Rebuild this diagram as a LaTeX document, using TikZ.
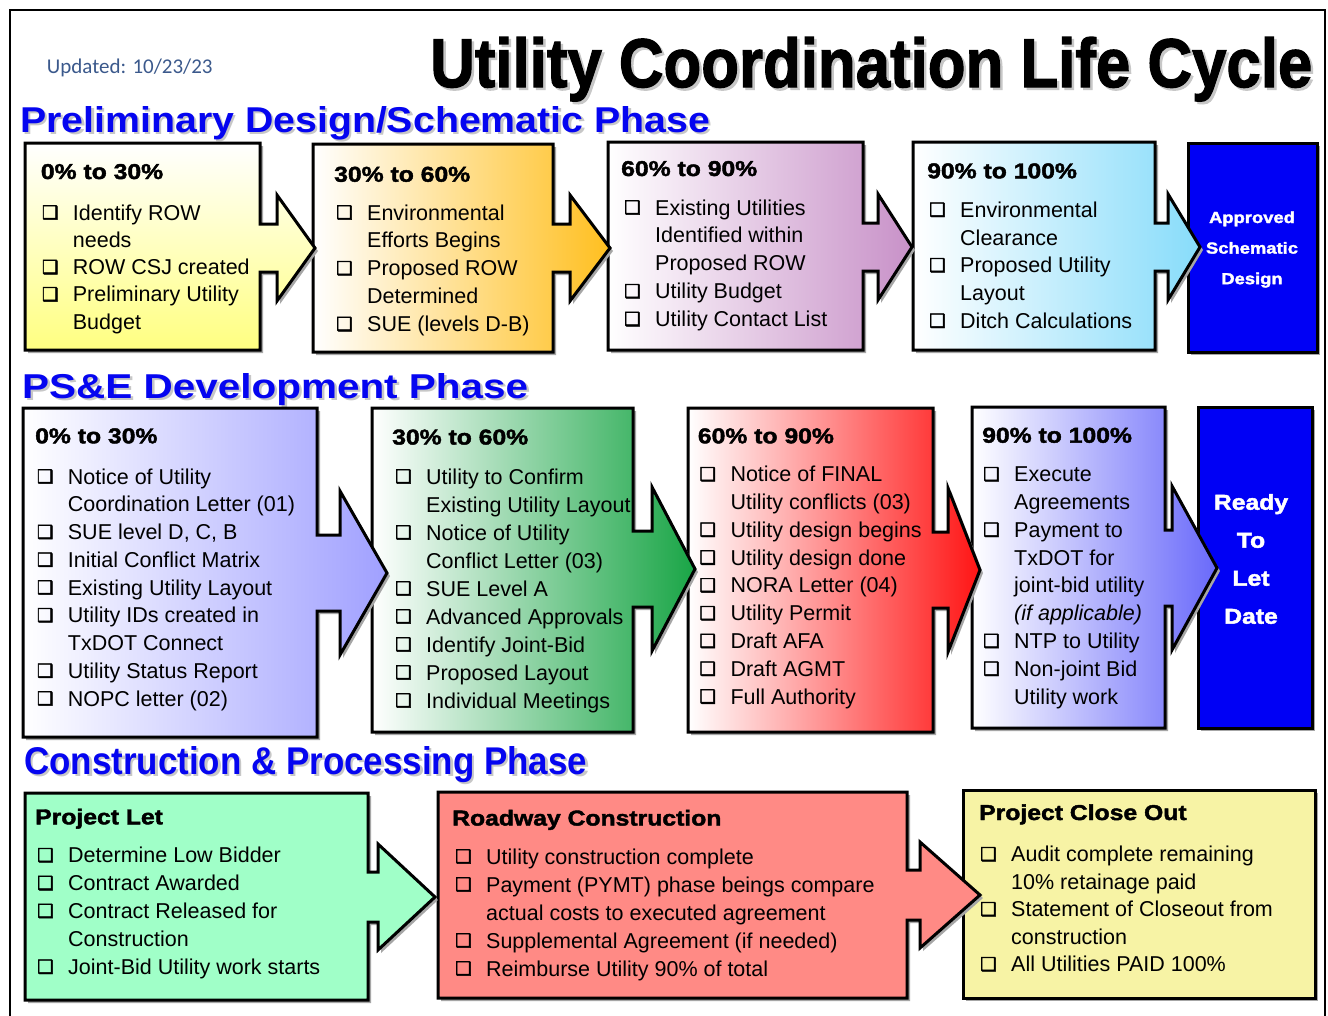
\documentclass[tikz,border=0pt]{standalone}
\usepackage{fontspec}
\usepackage{graphicx}
\setmainfont{Liberation Sans}
\newfontfamily\hdrfamily[FakeBold=2,FakeStretch=1.15]{Liberation Sans Bold}
\newfontfamily\cbfamily[FakeBold=2.5]{DejaVu Sans}
\newfontfamily\datefamily{Carlito}
\definecolor{cA}{RGB}{255,255,128}
\definecolor{cB}{RGB}{255,191,31}
\definecolor{cC}{RGB}{200,145,200}
\definecolor{cD}{RGB}{135,220,250}
\definecolor{cE}{RGB}{160,160,255}
\definecolor{cF}{RGB}{25,165,70}
\definecolor{cG}{RGB}{255,20,20}
\definecolor{cH}{RGB}{105,105,250}
\definecolor{cI}{RGB}{160,255,200}
\definecolor{cJ}{RGB}{255,138,133}
\definecolor{cK}{RGB}{247,243,165}
\definecolor{bluebox}{RGB}{0,0,245}
\definecolor{titleblue}{RGB}{5,5,240}
\definecolor{datecol}{RGB}{59,89,140}
\newcommand\HeadH{53}
\newcommand\ShaftH{24}
\newcommand\CB{\makebox[31pt][l]{\raisebox{1.2pt}{\cbfamily\fontsize{18.5}{19}\selectfont ❑}}}
\newcommand\NC{\hspace*{31pt}}
% text with a soft drop shadow, in one box
\newcommand\Shadowed[2]{\makebox[0pt][l]{\hspace*{2.5pt}\raisebox{-2.5pt}{\color{black!22}#2}}#2}
\tikzset{
  boxline/.style={draw=black, line width=3pt, line join=miter},
  boxshadow/.style={fill=black!35, shift={(3,3)}},
  hdr/.style={anchor=base west, inner sep=0pt, font=\hdrfamily\fontsize{21.5}{26}\selectfont},
  listtext/.style={anchor=base west, inner sep=0pt},
  phasetitle/.style={anchor=base west, inner sep=0pt, text=titleblue},
  whitetext/.style={anchor=base, inner sep=0pt, text=white}
}
% #1 style, #2 x1, #3 y1, #4 x2, #5 y2, #6 shaft x, #7 tip x, #8 tip y
\newcommand\ArrowBox[8]{%
  \path[boxshadow] (#2,#3) -- (#4,#3) -- (#4,{#8-\ShaftH}) -- (#6,{#8-\ShaftH}) -- (#6,{#8-\HeadH}) -- (#7,#8) -- (#6,{#8+\HeadH}) -- (#6,{#8+\ShaftH}) -- (#4,{#8+\ShaftH}) -- (#4,#5) -- (#2,#5) -- cycle;
  \path[boxline,#1] (#2,#3) -- (#4,#3) -- (#4,{#8-\ShaftH}) -- (#6,{#8-\ShaftH}) -- (#6,{#8-\HeadH}) -- (#7,#8) -- (#6,{#8+\HeadH}) -- (#6,{#8+\ShaftH}) -- (#4,{#8+\ShaftH}) -- (#4,#5) -- (#2,#5) -- cycle;
}
\newcommand\PlainBox[5]{%
  \path[boxshadow] (#2,#3) rectangle (#4,#5);
  \path[boxline,#1] (#2,#3) rectangle (#4,#5);
}
\newcommand\List[5]{\node[listtext] (#1) at (#2,#3) {\fontsize{21.5}{#4}\selectfont\begin{tabular}[t]{@{}l@{}}#5\end{tabular}};}
\begin{document}
\begin{tikzpicture}[x=1pt,y=-1pt]
\useasboundingbox[fill=white] (0,0) rectangle (1328,1015);
% frame
\draw[line width=1.3pt] (10,1020) -- (10,10) -- (1325,10) -- (1325,1020);
% titles
\node[anchor=base west, inner sep=0pt, text=datecol, font=\datefamily\fontsize{21}{24}\selectfont] (upd) at (46.7,73.3) {Updated: 10/23/23};
\node[anchor=base west, inner sep=0pt] (main) at (430,87) {\Shadowed{}{\resizebox{882pt}{50pt}{\hdrfamily Utility Coordination Life Cycle}}};
\node[phasetitle] (t1) at (20,132) {\Shadowed{}{\resizebox{690pt}{26pt}{\bfseries Preliminary Design/Schematic Phase}}};
\node[phasetitle] (t2) at (22,398) {\Shadowed{}{\resizebox{506pt}{25pt}{\bfseries PS\&E Development Phase}}};
\node[phasetitle] (t3) at (24,774) {\Shadowed{}{\resizebox{563pt}{28pt}{\bfseries Construction \& Processing Phase}}};
% row 1 (drawn right to left: each arrow lies over the next box)
\renewcommand\HeadH{53}\renewcommand\ShaftH{24}
\PlainBox{fill=bluebox}{1188}{143}{1317}{352}
\ArrowBox{left color=white, right color=cD}{913}{142}{1155}{350}{1168}{1200}{247}
\ArrowBox{left color=white, right color=cC}{608}{142}{863}{350}{878}{912}{247}
\ArrowBox{left color=white, right color=cB}{313}{144}{553}{352}{570}{610}{248}
\ArrowBox{top color=white, bottom color=cA}{25}{143}{260}{350}{277}{315}{248}
% row 2
\renewcommand\HeadH{82}\renewcommand\ShaftH{38}
\PlainBox{fill=bluebox}{1198}{407}{1312}{728}
\ArrowBox{left color=white, right color=cH}{972}{407}{1165}{728}{1172}{1217}{568}
\ArrowBox{left color=white, right color=cG}{688}{408}{933}{732}{948}{980}{570}
\ArrowBox{left color=white, right color=cF}{372}{408}{633}{732}{652}{695}{569}
\ArrowBox{left color=white, right color=cE}{23}{408}{317}{737}{340}{387}{573}
% row 3
\renewcommand\HeadH{53}\renewcommand\ShaftH{25}
\PlainBox{fill=cK}{963}{790}{1315}{998}
\ArrowBox{fill=cJ}{438}{792}{907}{998}{920}{980}{895}
\ArrowBox{fill=cI}{25}{793}{368}{1000}{378}{435}{897}
% headers
\node[hdr] (h11) at (40.7,179) {0\% to 30\%};
\node[hdr] (h12) at (334,181.7) {30\% to 60\%};
\node[hdr] (h13) at (621,176) {60\% to 90\%};
\node[hdr] (h14) at (927,178.3) {90\% to 100\%};
\node[hdr] (h21) at (35,443.3) {0\% to 30\%};
\node[hdr] (h22) at (392,444.5) {30\% to 60\%};
\node[hdr] (h23) at (697.7,443.3) {60\% to 90\%};
\node[hdr] (h24) at (982,442.7) {90\% to 100\%};
\node[hdr] (h31) at (35,824.3) {Project Let};
\node[hdr] (h32) at (452,825.5) {Roadway Construction};
\node[hdr] (h33) at (979,820) {Project Close Out};
% lists
\List{l11}{41.7}{220}{27.3}{\CB Identify ROW\\ \NC needs\\ \CB ROW CSJ created\\ \CB Preliminary Utility\\ \NC Budget}
\List{l12}{336}{220}{27.9}{\CB Environmental\\ \NC Efforts Begins\\ \CB Proposed ROW\\ \NC Determined\\ \CB SUE (levels D-B)}
\List{l13}{624}{215}{27.9}{\CB Existing Utilities\\ \NC Identified within\\ \NC Proposed ROW\\ \CB Utility Budget\\ \CB Utility Contact List}
\List{l14}{929}{217.3}{27.75}{\CB Environmental\\ \NC Clearance\\ \CB Proposed Utility\\ \NC Layout\\ \CB Ditch Calculations}
\List{l21}{36.7}{484}{27.75}{\CB Notice of Utility\\ \NC Coordination Letter (01)\\ \CB SUE level D, C, B\\ \CB Initial Conflict Matrix\\ \CB Existing Utility Layout\\ \CB Utility IDs created in\\ \NC TxDOT Connect\\ \CB Utility Status Report\\ \CB NOPC letter (02)}
\List{l22}{395}{484}{28}{\CB Utility to Confirm\\ \NC Existing Utility Layout\\ \CB Notice of Utility\\ \NC Conflict Letter (03)\\ \CB SUE Level A\\ \CB Advanced Approvals\\ \CB Identify Joint-Bid\\ \CB Proposed Layout\\ \CB Individual Meetings}
\List{l23}{699.3}{481.7}{27.8}{\CB Notice of FINAL\\ \NC Utility conflicts (03)\\ \CB Utility design begins\\ \CB Utility design done\\ \CB NORA Letter (04)\\ \CB Utility Permit\\ \CB Draft AFA\\ \CB Draft AGMT\\ \CB Full Authority}
\List{l24}{983}{481.7}{27.8}{\CB Execute\\ \NC Agreements\\ \CB Payment to\\ \NC TxDOT for\\ \NC joint-bid utility\\ \NC\textit{(if applicable)}\\ \CB NTP to Utility\\ \CB Non-joint Bid\\ \NC Utility work}
\List{l31}{37}{862.7}{27.9}{\CB Determine Low Bidder\\ \CB Contract Awarded\\ \CB Contract Released for\\ \NC Construction\\ \CB Joint-Bid Utility work starts}
\List{l32}{455}{864}{28}{\CB Utility construction complete\\ \CB Payment (PYMT) phase beings compare\\ \NC actual costs to executed agreement\\ \CB Supplemental Agreement (if needed)\\ \CB Reimburse Utility 90\% of total}
\List{l33}{980}{861.7}{27.5}{\CB Audit complete remaining\\ \NC 10\% retainage paid\\ \CB Statement of Closeout from\\ \NC construction\\ \CB All Utilities PAID 100\%}
% blue box texts
\node[whitetext] (asd) at (1252,223) {\hdrfamily\fontsize{16}{30.6}\selectfont\begin{tabular}[t]{@{}c@{}}Approved\\Schematic\\Design\end{tabular}};
\node[whitetext] (rtld) at (1251,509.7) {\hdrfamily\fontsize{21.5}{38}\selectfont\begin{tabular}[t]{@{}c@{}}Ready\\To\\Let\\Date\end{tabular}};
\end{tikzpicture}
\end{document}
